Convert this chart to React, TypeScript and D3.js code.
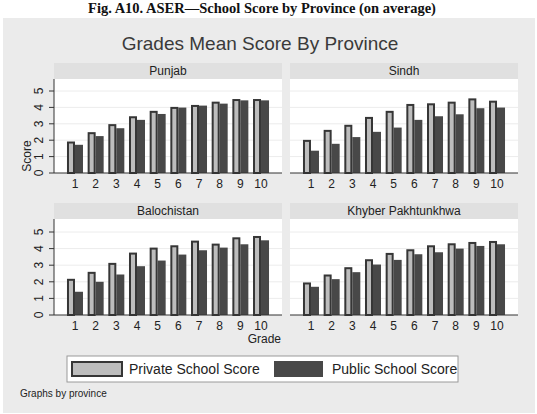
import React, { useEffect, useRef } from 'react';
import * as d3 from 'd3';

const grades = ['1', '2', '3', '4', '5', '6', '7', '8', '9', '10'];
const provinces = ['Punjab', 'Sindh', 'Balochistan', 'Khyber Pakhtunkhwa'];
const seriesNames = ['Private School Score', 'Public School Score'];
const yTicks = [0, 1, 2, 3, 4, 5];

const punjabPrivate = [1.92, 2.49, 2.98, 3.46, 3.79, 4.03, 4.15, 4.35, 4.51, 4.51];
const punjabPublic = [1.72, 2.25, 2.73, 3.24, 3.6, 3.99, 4.11, 4.23, 4.43, 4.43];
const sindhPrivate = [2.02, 2.63, 2.94, 3.42, 3.79, 4.21, 4.25, 4.35, 4.55, 4.41];
const sindhPublic = [1.36, 1.78, 2.19, 2.51, 2.77, 3.24, 3.46, 3.58, 3.95, 3.99];
const balochPrivate = [2.18, 2.6, 3.14, 3.76, 4.06, 4.2, 4.48, 4.3, 4.68, 4.76];
const balochPublic = [1.4, 2.0, 2.44, 2.94, 3.28, 3.64, 3.9, 4.06, 4.26, 4.5];
const kpPrivate = [1.96, 2.44, 2.88, 3.36, 3.74, 3.96, 4.2, 4.32, 4.4, 4.46];
const kpPublic = [1.7, 2.16, 2.58, 3.04, 3.32, 3.66, 3.78, 4.0, 4.16, 4.26];

const privateValues = [punjabPrivate, sindhPrivate, balochPrivate, kpPrivate];
const publicValues = [punjabPublic, sindhPublic, balochPublic, kpPublic];

const FONT = '"Liberation Sans", Arial, sans-serif';

const App: React.FC = () => {
    const chartRef = useRef<SVGSVGElement>(null);

    useEffect(() => {
        if (!chartRef.current) return;
        const root = d3.select(chartRef.current);
        root.selectAll('*').remove();

        const W = 537;
        const H = 414;
        root.attr('width', W).attr('height', H);

        // page background + caption
        root.append('rect').attr('width', W).attr('height', H).attr('fill', '#ffffff');
        root.append('text')
            .attr('x', 262)
            .attr('y', 13)
            .attr('text-anchor', 'middle')
            .attr('font-family', '"Liberation Serif", "Times New Roman", serif')
            .attr('font-weight', 'bold')
            .attr('font-size', '14.5px')
            .attr('fill', '#111')
            .text('Fig. A10.  ASER\u2014School Score by Province (on average)');

        // graph region
        root.append('rect')
            .attr('x', 3).attr('y', 18)
            .attr('width', 532).attr('height', 395)
            .attr('fill', '#ebebeb');

        root.append('text')
            .attr('x', 260)
            .attr('y', 50)
            .attr('text-anchor', 'middle')
            .attr('font-family', FONT)
            .attr('font-size', '19px')
            .attr('fill', '#3a3a3a')
            .text('Grades Mean Score By Province');

        // panel geometry
        const cols = [[54, 282], [290, 518]];
        const rows = [
            { stripTop: 63, plotTop: 79, base: 173, top5: 91 },
            { stripTop: 203, plotTop: 219, base: 315, top5: 232 },
        ];

        provinces.forEach((name, i) => {
            const [x0, x1] = cols[i % 2];
            const r = rows[Math.floor(i / 2)];
            const g = root.append('g');

            const x = d3.scaleBand<string>()
                .domain(grades)
                .range([x0, x1])
                .paddingInner(0.226)
                .paddingOuter(0.628);
            const xs = d3.scaleBand<string>()
                .domain(seriesNames)
                .range([0, x.bandwidth()]);
            const y = d3.scaleLinear().domain([0, 5]).range([r.base, r.top5]);

            // strip
            g.append('rect')
                .attr('x', x0).attr('y', r.stripTop)
                .attr('width', x1 - x0).attr('height', r.plotTop - r.stripTop)
                .attr('fill', '#e0e0e0');
            g.append('text')
                .attr('x', (x0 + x1) / 2)
                .attr('y', r.stripTop + 12)
                .attr('text-anchor', 'middle')
                .attr('font-family', FONT)
                .attr('font-size', '12px')
                .attr('fill', '#222')
                .text(name);

            // plot area
            g.append('rect')
                .attr('x', x0).attr('y', r.plotTop)
                .attr('width', x1 - x0).attr('height', r.base - r.plotTop)
                .attr('fill', '#ffffff');

            // grid
            g.selectAll('line.grid')
                .data(yTicks.slice(1))
                .enter()
                .append('line')
                .attr('x1', x0).attr('x2', x1)
                .attr('y1', d => y(d)).attr('y2', d => y(d))
                .attr('stroke', '#ececec')
                .attr('stroke-width', 1);

            // bars
            const priv = privateValues[i];
            const pub = publicValues[i];

            g.selectAll('rect.pub')
                .data(grades)
                .enter()
                .append('rect')
                .attr('x', d => (x(d) as number) + (xs(seriesNames[1]) as number))
                .attr('y', (d, k) => y(pub[k]))
                .attr('width', xs.bandwidth())
                .attr('height', (d, k) => r.base - y(pub[k]))
                .attr('fill', '#484848');

            g.selectAll('rect.priv')
                .data(grades)
                .enter()
                .append('rect')
                .attr('x', d => (x(d) as number) + (xs(seriesNames[0]) as number) + 1)
                .attr('y', (d, k) => y(priv[k]) + 1)
                .attr('width', xs.bandwidth() - 2)
                .attr('height', (d, k) => r.base - y(priv[k]) - 1)
                .attr('fill', '#bdbdbd')
                .attr('stroke', '#363636')
                .attr('stroke-width', 2);

            // x axis
            g.append('line')
                .attr('x1', x0).attr('x2', x1)
                .attr('y1', r.base).attr('y2', r.base)
                .attr('stroke', '#333').attr('stroke-width', 1);

            g.selectAll('text.xl')
                .data(grades)
                .enter()
                .append('text')
                .attr('x', d => (x(d) as number) + x.bandwidth() / 2)
                .attr('y', r.base + 15)
                .attr('text-anchor', 'middle')
                .attr('font-family', FONT)
                .attr('font-size', '12px')
                .attr('fill', '#222')
                .text(d => d);

            // y axis on left column only
            if (i % 2 === 0) {
                g.append('line')
                    .attr('x1', x0).attr('x2', x0)
                    .attr('y1', r.plotTop).attr('y2', r.base)
                    .attr('stroke', '#333').attr('stroke-width', 1);
                g.selectAll('line.yt')
                    .data(yTicks)
                    .enter()
                    .append('line')
                    .attr('x1', x0 - 5).attr('x2', x0)
                    .attr('y1', d => y(d)).attr('y2', d => y(d))
                    .attr('stroke', '#333');
                g.selectAll('text.yl')
                    .data(yTicks)
                    .enter()
                    .append('text')
                    .attr('transform', d => `translate(${x0 - 11},${y(d)}) rotate(-90)`)
                    .attr('text-anchor', 'middle')
                    .attr('font-family', FONT)
                    .attr('font-size', '12px')
                    .attr('fill', '#222')
                    .text(d => String(d));
            }

            if (i === 0) {
                g.append('text')
                    .attr('transform', `translate(31,${156}) rotate(-90)`)
                    .attr('text-anchor', 'middle')
                    .attr('font-family', FONT)
                    .attr('font-size', '12px')
                    .attr('fill', '#222')
                    .text('Score');
            }
            if (i === 2) {
                g.append('text')
                    .attr('x', x1 - 1)
                    .attr('y', r.base + 28)
                    .attr('text-anchor', 'end')
                    .attr('font-family', FONT)
                    .attr('font-size', '12px')
                    .attr('fill', '#222')
                    .text('Grade');
            }
        });

        // legend
        const lg = root.append('g');
        lg.append('rect')
            .attr('x', 67).attr('y', 356)
            .attr('width', 391).attr('height', 26)
            .attr('fill', '#ffffff')
            .attr('stroke', '#9a9a9a').attr('stroke-width', 1);
        lg.append('rect')
            .attr('x', 72).attr('y', 362)
            .attr('width', 50).attr('height', 14)
            .attr('fill', '#bdbdbd')
            .attr('stroke', '#363636').attr('stroke-width', 2);
        lg.append('text')
            .attr('x', 129).attr('y', 374)
            .attr('font-family', FONT)
            .attr('font-size', '14px')
            .attr('fill', '#222')
            .text(seriesNames[0]);
        lg.append('rect')
            .attr('x', 274).attr('y', 361)
            .attr('width', 49).attr('height', 16)
            .attr('fill', '#484848');
        lg.append('text')
            .attr('x', 332).attr('y', 374)
            .attr('font-family', FONT)
            .attr('font-size', '14px')
            .attr('fill', '#222')
            .text(seriesNames[1]);

        root.append('text')
            .attr('x', 20).attr('y', 397)
            .attr('font-family', FONT)
            .attr('font-size', '10px')
            .attr('fill', '#222')
            .text('Graphs by province');
    }, []);

    return (
        <svg ref={chartRef} width="537" height="414" style={{ position: 'absolute', left: 0, top: 0 }}></svg>
    );
};

export default App;
